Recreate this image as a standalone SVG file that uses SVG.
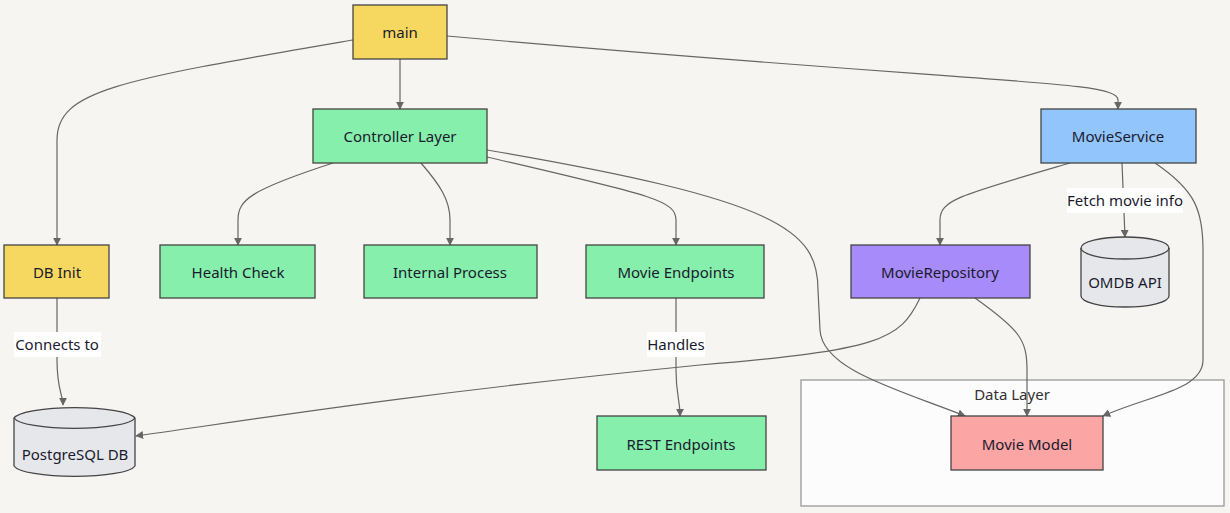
<svg xmlns="http://www.w3.org/2000/svg" width="1230" height="513" viewBox="0 0 1230 513">
<defs>
<marker id="ah" viewBox="0 0 10 10" refX="9" refY="5" markerWidth="8" markerHeight="8" orient="auto-start-reverse" markerUnits="userSpaceOnUse"><path d="M0,0 L10,5 L0,10 z" fill="#666"/></marker>
<style>
.n rect{stroke:#444;stroke-width:1.3}
.t{font-family:"Noto Sans","Liberation Sans",sans-serif;font-size:15px;fill:#1a1a2e;text-anchor:middle;dominant-baseline:central}
.e{fill:none;stroke:#666;stroke-width:1.2;marker-end:url(#ah)}
.lb{fill:#fff}
.y{fill:#f6d860}.g{fill:#86efac}.b{fill:#93c5fd}.p{fill:#a78bfa}.r{fill:#fca5a5}
.cyl{fill:#e5e7eb;stroke:#444;stroke-width:1.3}
</style>
</defs>
<rect width="1230" height="513" fill="#f7f5f2"/>
<g id="cluster-data-layer">
<rect x="801" y="380" width="423" height="126" fill="#fcfcfc" stroke="#999" stroke-width="1.3"/>
<text class="t" x="1012" y="394" style="fill:#333">Data Layer</text>
</g>
<g id="connectors">
<path class="e" d="M353,40 C120,80 57,90 57,140 L57,245"/>
<path class="e" d="M400,59 L400,109"/>
<path class="e" d="M447,36 C1000,85 1118,80 1118,100 L1118,109"/>
<path class="e" d="M333,163 C250,190 238,200 238,220 L238,245"/>
<path class="e" d="M421,163 C440,185 450,200 450,220 L450,245"/>
<path class="e" d="M487,157 C650,195 676,200 676,220 L676,245"/>
<path class="e" d="M487,150 C780,200 818,230 818,290 L820,330 C822,370 900,390 965,416"/>
<path class="e" d="M1070,163 C960,195 940,200 940,220 L940,245"/>
<path class="e" d="M1122,163 L1125,237"/>
<path class="e" d="M1155,163 C1195,190 1203,210 1203,250 L1203,360 C1203,390 1150,395 1103,416"/>
<path class="e" d="M920,298 C900,340 880,350 700,365 C400,395 250,420 136,436"/>
<path class="e" d="M975,298 C1020,330 1027,340 1027,370 L1027,416"/>
<path class="e" d="M57,298 L57,360 C57,390 63,395 63,405"/>
<path class="e" d="M676,298 L676,370 C676,395 680,400 680,416"/>
</g>
<g id="edge-labels">
<rect class="lb" x="14" y="332" width="87" height="25"/><text class="t" x="57" y="344">Connects to</text>
<rect class="lb" x="647" y="332" width="58" height="25"/><text class="t" x="676" y="344">Handles</text>
<rect class="lb" x="1067" y="188" width="116" height="25"/><text class="t" x="1125" y="200">Fetch movie info</text>
</g>
<g id="main" class="n"><rect class="y" x="353" y="5" width="94" height="54"/><text class="t" x="400" y="32">main</text></g>
<g id="controller-layer" class="n"><rect class="g" x="313" y="109" width="174" height="54"/><text class="t" x="400" y="136">Controller Layer</text></g>
<g id="movie-service" class="n"><rect class="b" x="1041" y="109" width="155" height="54"/><text class="t" x="1118" y="136">MovieService</text></g>
<g id="db-init" class="n"><rect class="y" x="4" y="245" width="105" height="53"/><text class="t" x="57" y="272">DB Init</text></g>
<g id="health-check" class="n"><rect class="g" x="160" y="245" width="155" height="53"/><text class="t" x="238" y="272">Health Check</text></g>
<g id="internal-process" class="n"><rect class="g" x="364" y="245" width="173" height="53"/><text class="t" x="450" y="272">Internal Process</text></g>
<g id="movie-endpoints" class="n"><rect class="g" x="586" y="245" width="178" height="53"/><text class="t" x="676" y="272">Movie Endpoints</text></g>
<g id="movie-repository" class="n"><rect class="p" x="851" y="245" width="179" height="53"/><text class="t" x="940" y="272">MovieRepository</text></g>
<g id="omdb-api">
<path class="cyl" d="M1081,248 A44,11 0 0 1 1169,248 L1169,296 A44,11 0 0 1 1081,296 Z"/>
<path d="M1081,248 A44,11 0 0 0 1169,248" fill="none" stroke="#444" stroke-width="1.3"/>
<text class="t" x="1125" y="282">OMDB API</text>
</g>
<g id="postgresql-db">
<path class="cyl" d="M14,418 A61,12 0 0 1 135,418 L135,466 A61,12 0 0 1 14,466 Z"/>
<path d="M14,418 A61,12 0 0 0 135,418" fill="none" stroke="#444" stroke-width="1.3"/>
<text class="t" x="75" y="454">PostgreSQL DB</text>
</g>
<g id="rest-endpoints" class="n"><rect class="g" x="597" y="416" width="169" height="54"/><text class="t" x="681" y="444">REST Endpoints</text></g>
<g id="movie-model" class="n"><rect class="r" x="951" y="416" width="152" height="54"/><text class="t" x="1027" y="444">Movie Model</text></g>
</svg>
